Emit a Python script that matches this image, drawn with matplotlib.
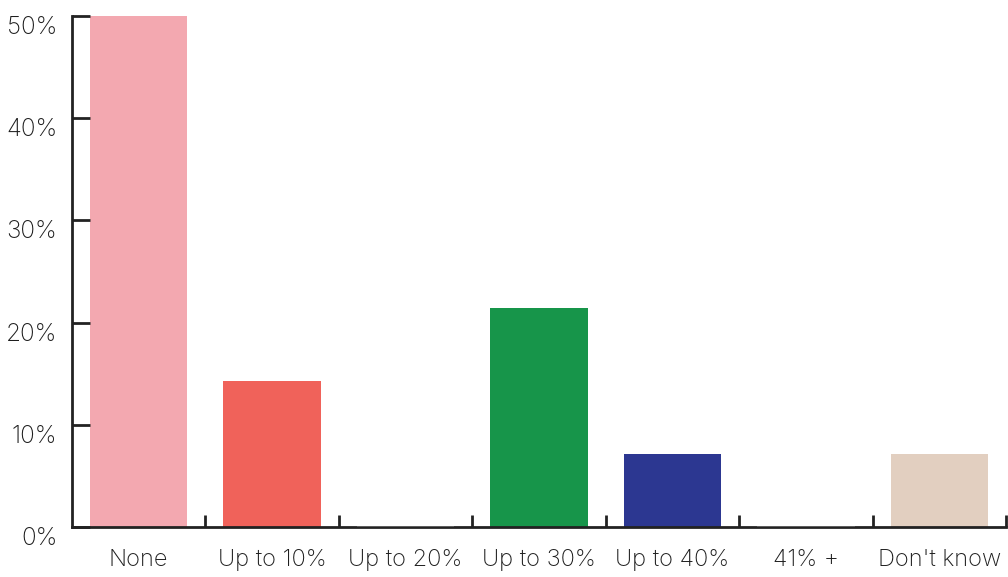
import matplotlib.pyplot as plt
import matplotlib.transforms as mtransforms

categories = ['None', 'Up to 10%', 'Up to 20%', 'Up to 30%', 'Up to 40%', '41% +', "Don't know"]
values = [50.0, 14.3, 0.0, 21.4, 7.1, 0.0, 7.1]
colors = ['#F3A8B0', '#F0625A', '#9A9A9A', '#17954A', '#2C3791', '#9A9A9A', '#E2CFC0']
yticks = [0, 10, 20, 30, 40, 50]

plt.rcParams['font.family'] = ['Inter', 'DejaVu Sans']
text_color = '#1e1e1e'
axis_color = '#222222'

fig = plt.figure(figsize=(10.08, 5.77), dpi=100)
ax = fig.add_axes([0.0714, 0.0867, 0.9266, 0.8856])

x = range(len(categories))
for i, (v, c) in enumerate(zip(values, colors)):
    if v == 0:
        # empty categories show up as a thin line on the axis
        ax.bar(i, v, width=0.73, color=c, edgecolor='#666666', linewidth=1.2, zorder=3)
    else:
        ax.bar(i, v, width=0.73, color=c, linewidth=0, zorder=1)

ax.set_xlim(-0.5, len(categories) - 0.5)
ax.set_ylim(0, 50)

ax.spines['top'].set_visible(False)
ax.spines['right'].set_visible(False)
for s in ['left', 'bottom']:
    ax.spines[s].set_linewidth(2)
    ax.spines[s].set_color(axis_color)

ax.set_yticks(yticks)
ax.set_yticklabels([f'{t}%' for t in yticks])
ax.tick_params(axis='y', direction='in', length=13, width=2, color=axis_color,
               labelsize=17.5, labelcolor=text_color, pad=10.5)

# category boundaries carry the x ticks, labels sit at the centres
ax.set_xticks([i + 0.5 for i in x])
ax.set_xticklabels([])
ax.set_xticks(list(x), minor=True)
ax.set_xticklabels(categories, minor=True)
ax.tick_params(axis='x', which='major', direction='in', length=8.6, width=2, color=axis_color)
ax.tick_params(axis='x', which='minor', length=0, labelsize=17, labelcolor=text_color, pad=16)

offset = mtransforms.ScaledTranslation(0, -9 / 100, fig.dpi_scale_trans)
for lab in ax.get_yticklabels():
    lab.set_transform(lab.get_transform() + offset)
for lab in ax.get_yticklabels() + ax.get_xticklabels(minor=True):
    lab.set_fontweight('light')

fig.savefig('out.png', dpi=100)
